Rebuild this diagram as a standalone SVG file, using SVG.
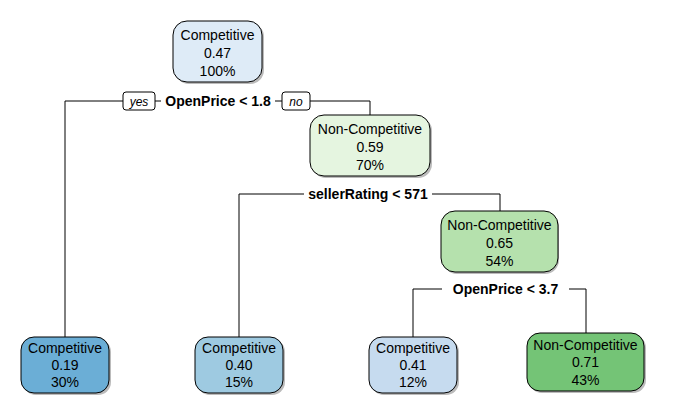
<svg xmlns="http://www.w3.org/2000/svg" width="673" height="405" viewBox="0 0 673 405">
<style>
.box{stroke:#000;stroke-width:1}
.sh{fill:#bbbbbb;stroke:none}
.t{font-family:"Liberation Sans",Arial,sans-serif;font-size:14px;text-anchor:middle;fill:#000}
.s{font-family:"Liberation Sans",Arial,sans-serif;font-size:14px;font-weight:bold;text-anchor:middle;fill:#000}
.yn{font-family:"Liberation Sans",Arial,sans-serif;font-size:12px;font-style:italic;text-anchor:middle;fill:#000}
.c{fill:none;stroke:#000;stroke-width:1}
</style>
<rect width="673" height="405" fill="#fff"/>
<g id="connectors">
<polyline class="c" points="65,337 65,101 123,101"/>
<line class="c" x1="155" y1="101" x2="161" y2="101"/>
<line class="c" x1="275" y1="101" x2="282" y2="101"/>
<polyline class="c" points="310,101 370,101 370,115"/>
<polyline class="c" points="239,337 239,194 304,194"/>
<polyline class="c" points="432,194 500,194 500,211"/>
<polyline class="c" points="413,337 413,289 442,289"/>
<polyline class="c" points="569,289 586,289 586,333"/>
<rect x="123" y="92" width="32" height="18" rx="3" fill="#fff" stroke="#000"/>
<text class="yn" x="139" y="105.5">yes</text>
<rect x="282" y="92" width="28" height="18" rx="3" fill="#fff" stroke="#000"/>
<text class="yn" x="296" y="105.5">no</text>
<text class="s" x="218" y="106">OpenPrice &lt; 1.8</text>
<text class="s" x="368" y="199">sellerRating &lt; 571</text>
<text class="s" x="505.5" y="294">OpenPrice &lt; 3.7</text>
</g>
<g id="n1">
<rect class="sh" x="175" y="23" width="89" height="61" rx="14"/>
<rect class="box" x="173" y="21" width="89" height="61" rx="14" fill="#deebf7"/>
<text class="t" x="217.5" y="40">Competitive</text>
<text class="t" x="217.5" y="58">0.47</text>
<text class="t" x="217.5" y="76">100%</text>
</g>
<g id="n2">
<rect class="sh" x="312" y="117" width="120" height="61" rx="14"/>
<rect class="box" x="310" y="115" width="120" height="61" rx="14" fill="#e5f5e0"/>
<text class="t" x="370" y="134">Non-Competitive</text>
<text class="t" x="370" y="152">0.59</text>
<text class="t" x="370" y="170">70%</text>
</g>
<g id="n3">
<rect class="sh" x="443" y="213" width="116" height="61" rx="14"/>
<rect class="box" x="441" y="211" width="117" height="61" rx="14" fill="#b5e1ad"/>
<text class="t" x="499.5" y="230">Non-Competitive</text>
<text class="t" x="499.5" y="248">0.65</text>
<text class="t" x="499.5" y="266">54%</text>
</g>
<g id="leaf1">
<rect class="sh" x="23" y="339" width="88" height="56" rx="13"/>
<rect class="box" x="21" y="337" width="88" height="56" rx="13" fill="#6baed6"/>
<text class="t" x="65" y="353">Competitive</text>
<text class="t" x="65" y="370">0.19</text>
<text class="t" x="65" y="387">30%</text>
</g>
<g id="leaf2">
<rect class="sh" x="197" y="339" width="88" height="56" rx="13"/>
<rect class="box" x="195" y="337" width="88" height="56" rx="13" fill="#9ecae1"/>
<text class="t" x="239" y="353">Competitive</text>
<text class="t" x="239" y="370">0.40</text>
<text class="t" x="239" y="387">15%</text>
</g>
<g id="leaf3">
<rect class="sh" x="371" y="339" width="88" height="56" rx="13"/>
<rect class="box" x="369" y="337" width="88" height="56" rx="13" fill="#c6dbef"/>
<text class="t" x="413" y="353">Competitive</text>
<text class="t" x="413" y="370">0.41</text>
<text class="t" x="413" y="387">12%</text>
</g>
<g id="leaf4">
<rect class="sh" x="529" y="335" width="117" height="58" rx="13"/>
<rect class="box" x="527" y="333" width="117" height="58" rx="13" fill="#74c476"/>
<text class="t" x="585.5" y="350">Non-Competitive</text>
<text class="t" x="585.5" y="367">0.71</text>
<text class="t" x="585.5" y="385">43%</text>
</g>
</svg>
